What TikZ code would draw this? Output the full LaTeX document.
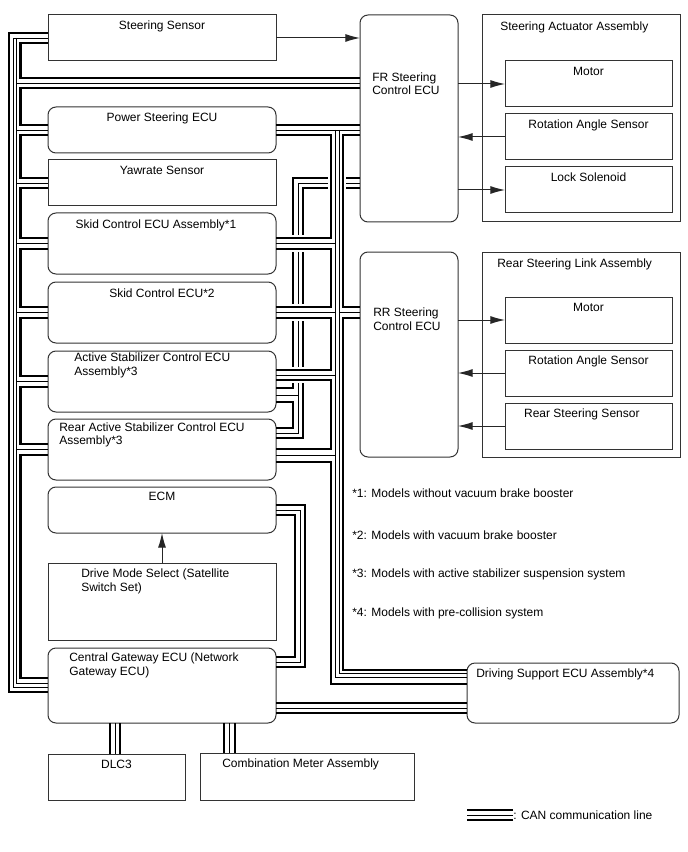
\documentclass[tikz,border=0pt]{standalone}
\usepackage{fontspec}
\setmainfont{Liberation Sans}
\usetikzlibrary{arrows.meta,calc}
\newcommand{\fs}{\fontsize{9}{10.2}\selectfont}

\begin{document}
\begin{tikzpicture}[x=0.75pt,y=-0.75pt,
  sbox/.style={draw=black!80,line width=0.75pt,anchor=north west,inner sep=0pt,outer sep=0pt},
  rbox/.style={sbox,rounded corners=6pt},
  lw/.style={minimum width=171pt},
  iw/.style={minimum width=125.25pt,minimum height=34.5pt},
  lbl/.style={font=\fs,inner sep=0pt,anchor=north,yshift=-4.5pt},
  lbll/.style={font=\fs,inner sep=0pt,anchor=north west,align=left},
  note/.style={font=\fs,inner sep=0pt,anchor=west},
  arrow/.style={-{Latex[length=11pt,width=6pt]},line width=0.75pt,draw=black!85},
  canthick/.style={line width=1.6pt},
  canthin/.style={line width=0.6pt},
  halo/.style={preaction={draw=white,line width=4.4pt,shorten <=2pt,shorten >=2pt}},
  halothin/.style={preaction={draw=white,line width=4pt,shorten <=1.5pt,shorten >=1.5pt}}
]
\useasboundingbox (0,0) rectangle (688,852);

% left column
\node[sbox,lw,minimum height=34.5pt,label={[lbl]north:Steering Sensor}] (ss) at (48,15) {};
\node[rbox,lw,minimum height=34.5pt,label={[lbl]north:Power Steering ECU}] (ps) at (48,107) {};
\node[sbox,lw,minimum height=34.5pt,label={[lbl]north:Yawrate Sensor}] (yaw) at (48,160) {};
\node[rbox,lw,minimum height=45.75pt,label={[lbl,xshift=-4.5pt,yshift=-0.5pt]north:Skid Control ECU Assembly*1}] (skA) at (48,213) {};
\node[rbox,lw,minimum height=45.75pt,label={[lbl,yshift=-0.5pt]north:Skid Control ECU*2}] (skB) at (48,282) {};
\node[rbox,lw,minimum height=45.75pt,label={[lbll,xshift=19.5pt,yshift=-1.5pt]north west:Active Stabilizer Control ECU\\Assembly*3}] (asc) at (48,351) {};
\node[rbox,lw,minimum height=45.75pt,label={[lbll,xshift=8.25pt,yshift=-2.5pt]north west:Rear Active Stabilizer Control ECU\\Assembly*3}] (rasc) at (48,419) {};
\node[rbox,lw,minimum height=34.5pt,label={[lbl,yshift=1pt]north:ECM}] (ecm) at (48,487) {};
\node[sbox,lw,minimum height=57.75pt,label={[lbll,xshift=24.75pt,yshift=-4.3pt]north west:Drive Mode Select (Satellite\\Switch Set)}] (dms) at (48,563) {};
\node[rbox,lw,minimum height=56.25pt,label={[lbll,xshift=15.75pt,yshift=-3.5pt]north west:Central Gateway ECU (Network\\Gateway ECU)}] (cgw) at (48,648) {};
\node[sbox,minimum width=102.75pt,minimum height=34.5pt,label={[lbl]north:DLC3}] (dlc) at (48,754) {};
\node[sbox,minimum width=160.5pt,minimum height=35.25pt,label={[lbll,xshift=16.5pt,yshift=-4.3pt]north west:Combination Meter Assembly}] (cma) at (200,753) {};

% right column
\node[rbox,minimum width=73.5pt,minimum height=155.25pt,label={[lbll,xshift=9pt,yshift=-43pt]north west:FR Steering\\Control ECU}] (fr) at (360,15) {};
\node[sbox,minimum width=148.5pt,minimum height=155.25pt,label={[lbll,xshift=13.5pt,yshift=-5.2pt]north west:Steering Actuator Assembly}] (saa) at (482,15) {};
\node[sbox,iw,label={[lbl,yshift=0.3pt]north:Motor}] (motA) at (505,61) {};
\node[sbox,iw,label={[lbl,yshift=0.3pt]north:Rotation Angle Sensor}] (rotA) at (505,114) {};
\node[sbox,iw,label={[lbl]north:Lock Solenoid}] (lock) at (505,167) {};
\node[rbox,minimum width=73.5pt,minimum height=153.75pt,label={[lbll,xshift=9.75pt,yshift=-41.8pt]north west:RR Steering\\Control ECU}] (rr) at (360,252) {};
\node[sbox,minimum width=148.5pt,minimum height=153.75pt,label={[lbll,xshift=11.25pt,yshift=-5pt]north west:Rear Steering Link Assembly}] (rsl) at (482,252) {};
\node[sbox,iw,label={[lbl]north:Motor}] (motB) at (505,297) {};
\node[sbox,iw,label={[lbl]north:Rotation Angle Sensor}] (rotB) at (505,350) {};
\node[sbox,iw,label={[lbl,xshift=-5pt]north:Rear Steering Sensor}] (rss) at (505,403) {};
\node[rbox,minimum width=159pt,minimum height=45pt,label={[lbll,xshift=6.75pt,yshift=-4.3pt]north west:Driving Support ECU Assembly*4}] (dsu) at (467,663) {};

% notes and legend
\node[note] (n1) at (352,493) {*1: Models without vacuum brake booster};
\node[note] (n2) at (352,535) {*2: Models with vacuum brake booster};
\node[note] (n3) at (352,574) {*3: Models with active stabilizer suspension system};
\node[note] (n4) at (352,613) {*4: Models with pre-collision system};
\node[note] (lg) at (513,815) {: CAN communication line};

% signal arrows
\draw[arrow] (ss.east) -- (ss.east -| fr.west);
\draw[arrow] (motA.west -| fr.east) -- (motA.west);
\draw[arrow] (rotA.west) -- (rotA.west -| fr.east);
\draw[arrow] (lock.west -| fr.east) -- (lock.west);
\draw[arrow] (motB.west -| rr.east) -- (motB.west);
\draw[arrow] (rotB.west) -- (rotB.west -| rr.east);
\draw[arrow] (rss.west) -- (rss.west -| rr.east);
\draw[arrow] (dms.north) -- (ecm.south);

% CAN attachment points
\foreach \n in {ss,ps,yaw,skA,skB,asc,rasc}{
  \path (\n.west) ++(0,4pt) coordinate (\n T) (\n.west) coordinate (\n M) ++(0,-4pt) coordinate (\n B);
}
\foreach \n in {ps,yaw,skA,skB,ecm}{
  \path (\n.east) ++(0,4pt) coordinate (\n ET) (\n.east) coordinate (\n EM) ++(0,-4pt) coordinate (\n EB);
}
\coordinate (la) at (9,0);
\coordinate (lb) at (13,0);
\coordinate (lc) at (16.5,0);
\coordinate (ld) at (20.5,0);
\coordinate (ra) at (331,0);
\coordinate (rb) at (335.5,0);
\coordinate (rc) at (339,0);
\coordinate (rd) at (343,0);
\coordinate (xa) at (293,0);
\coordinate (xb) at (298,0);
\coordinate (xc) at (303,0);
\coordinate (ea) at (295,0);
\coordinate (eb) at (300,0);
\coordinate (ec) at (305,0);
\coordinate (frL1) at ($(fr.north west)+(0,63)$);
\coordinate (frL2) at ($(fr.north west)+(0,68)$);
\coordinate (frL3) at ($(fr.north west)+(0,73)$);
\coordinate (ascE1) at ($(asc.north east)+(0,19)$);
\coordinate (ascE2) at ($(asc.north east)+(0,24)$);
\coordinate (ascE3) at ($(asc.north east)+(0,29)$);
\coordinate (ascX1) at ($(asc.north east)+(0,37)$);
\coordinate (ascX2) at ($(asc.north east)+(0,44)$);
\coordinate (ascX3) at ($(asc.north east)+(0,51)$);
\coordinate (rascX1) at ($(rasc.north east)+(0,9)$);
\coordinate (rascX2) at ($(rasc.north east)+(0,14)$);
\coordinate (rascX3) at ($(rasc.north east)+(0,19)$);
\coordinate (rascE1) at ($(rasc.north east)+(0,30)$);
\coordinate (rascE2) at ($(rasc.north east)+(0,36)$);
\coordinate (rascE3) at ($(rasc.north east)+(0,43)$);
\coordinate (cgwI) at ($(cgw.north west)+(0,30)$);
\coordinate (cgwN1) at ($(cgw.north west)+(0,35)$);
\coordinate (cgwN2) at ($(cgw.north west)+(0,39)$);
\coordinate (cgwO) at ($(cgw.north west)+(0,44)$);
\coordinate (cgwE1) at ($(cgw.north east)+(0,9)$);
\coordinate (cgwE2) at ($(cgw.north east)+(0,14)$);
\coordinate (cgwE3) at ($(cgw.north east)+(0,19)$);
\coordinate (cgwG1) at ($(cgw.north east)+(0,55)$);
\coordinate (cgwG2) at ($(cgw.north east)+(0,60)$);
\coordinate (cgwG3) at ($(cgw.north east)+(0,65)$);
\coordinate (dsuA) at ($(dsu.north west)+(0,7)$);
\coordinate (dsuB) at ($(dsu.north west)+(0,10.5)$);
\coordinate (dsuC) at ($(dsu.north west)+(0,14)$);
\coordinate (dsuD) at ($(dsu.north west)+(0,21)$);
\coordinate (dl1) at ($(cgw.south west)+(62,0)$);
\coordinate (dl2) at ($(cgw.south west)+(67,0)$);
\coordinate (dl3) at ($(cgw.south west)+(72,0)$);
\coordinate (cm1) at ($(cgw.south west)+(176,0)$);
\coordinate (cm2) at ($(cgw.south west)+(181.5,0)$);
\coordinate (cm3) at ($(cgw.south west)+(187,0)$);

% CAN bus, left side
\draw[canthick] (ssT) -| (la |- cgwO) -- (cgwO);
\draw[canthin] (ssM) -| (lb |- cgwN2) -- (cgwN2);
\draw[canthin] (lc |- ssM) |- (cgwN1);
\draw[canthick] (ssB) -| (ld |- frL1) -- (frL1);
\draw[canthin] (lc |- frL2) -- (frL2);
\draw[canthick] (frL3) -| (ld |- psT) -- (psT);
\draw[canthick] (psB) -| (ld |- yawT) -- (yawT);
\draw[canthick] (yawB) -| (ld |- skAT) -- (skAT);
\draw[canthick] (skAB) -| (ld |- skBT) -- (skBT);
\draw[canthick] (skBB) -| (ld |- ascT) -- (ascT);
\draw[canthick] (ascB) -| (ld |- rascT) -- (rascT);
\draw[canthick] (rascB) -| (ld |- cgwI) -- (cgwI);
\foreach \n in {ps,yaw,skA,skB,asc,rasc}
  \draw[canthin] (lc |- \n M) -- (\n M);

% CAN bus, FR to stabilizers
\draw[canthick] (yawET -| fr.west) -| (xa |- ascX1) -- (ascX1);
\draw[canthin] (yawEM -| fr.west) -| (xb |- rascX2) -- (rascX2);
\draw[canthin] (xb |- ascX2) -- (ascX2);
\draw[canthick] (yawEB -| fr.west) -| (xc |- rascX3) -- (rascX3);
\draw[canthick] (ascX3) -| (xa |- rascX1) -- (rascX1);

% CAN bus, right side
\draw[canthick,halo] (psEB) -| (ra |- skAET) -- (skAET);
\draw[canthick,halo] (skAEB) -| (ra |- skBET) -- (skBET);
\draw[canthick,halo] (skBEB) -| (ra |- ascE1) -- (ascE1);
\draw[canthick,halo] (ascE3) -| (ra |- rascE1) -- (rascE1);
\draw[canthick,halo] (rascE3) -| (ra |- dsuD) -- (dsuD);
\draw[canthin,halothin] (rb |- psEM) |- (dsuC);
\draw[canthin,halothin] (rc |- psEM) |- (dsuB);
\draw[canthick,halo] (psEB -| fr.west) -| (rd |- skBET) -- (skBET -| rr.west);
\draw[canthick,halo] (skBEB -| rr.west) -| (rd |- dsuA) -- (dsuA);
\foreach \n in {skA,skB}
  \draw[canthin,halothin] (\n EM) -- (rb |- \n EM);
\draw[canthin,halothin] (ascE2) -- (rb |- ascE2);
\draw[canthin,halothin] (rascE2) -- (rb |- rascE2);
\draw[canthin] (rc |- skBEM) -- (skBEM -| rr.west);
\draw[canthick] (psET) -- (psET -| fr.west);
\draw[canthin] (psEM) -- (psEM -| fr.west);

% CAN bus, gateway
\draw[canthick] (ecmET) -| (ec |- cgwE3) -- (cgwE3);
\draw[canthin] (ecmEM) -| (eb |- cgwE2) -- (cgwE2);
\draw[canthick] (ecmEB) -| (ea |- cgwE1) -- (cgwE1);
\draw[canthick] (cgwG1) -- (cgwG1 -| dsu.west);
\draw[canthin] (cgwG2) -- (cgwG2 -| dsu.west);
\draw[canthick] (cgwG3) -- (cgwG3 -| dsu.west);
\draw[canthick] (dl1) -- (dl1 |- dlc.north);
\draw[canthin] (dl2) -- (dl2 |- dlc.north);
\draw[canthick] (dl3) -- (dl3 |- dlc.north);
\draw[canthick] (cm1) -- (cm1 |- cma.north);
\draw[canthin] (cm2) -- (cm2 |- cma.north);
\draw[canthick] (cm3) -- (cm3 |- cma.north);

% legend
\draw[canthick] ([yshift=4pt]lg.west) -- ++(-46,0);
\draw[canthin] (lg.west) -- ++(-46,0);
\draw[canthick] ([yshift=-4pt]lg.west) -- ++(-46,0);
\end{tikzpicture}
\end{document}
